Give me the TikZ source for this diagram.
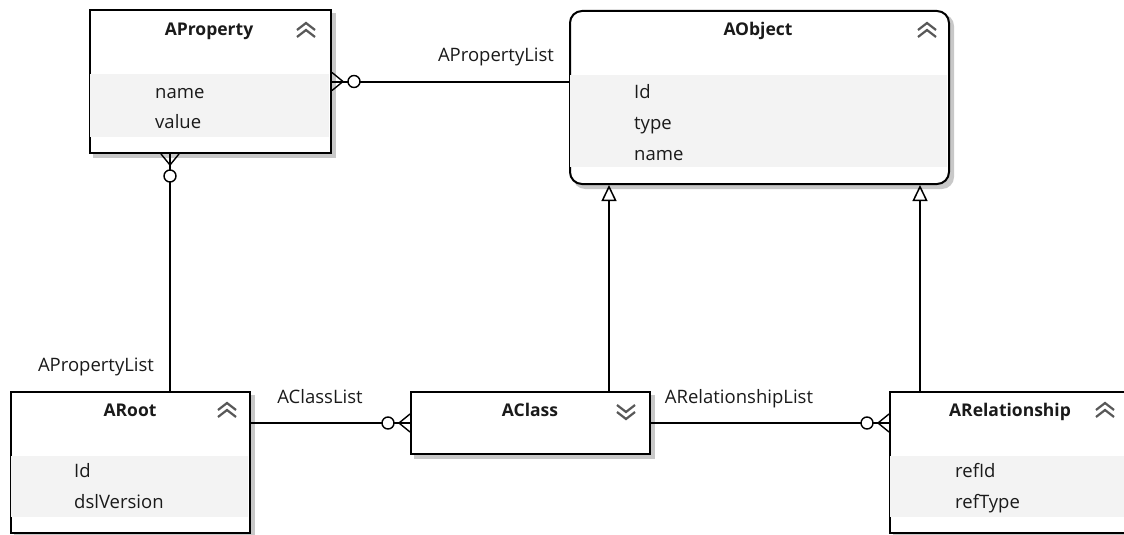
\documentclass[tikz,border=0pt]{standalone}
\usepackage{fontspec}
\setmainfont{Open Sans}
\usetikzlibrary{arrows.meta,calc}
\pgfdeclarelayer{bg}
\pgfsetlayers{bg,main}
\definecolor{shadowgray}{HTML}{C8C8C8}
\definecolor{bandgray}{HTML}{F3F3F3}
\definecolor{chevgray}{HTML}{585858}
\definecolor{txt}{HTML}{1A1A1A}
\tikzset{
  ent/.style={draw=black, line width=2pt, fill=white, inner sep=0pt, anchor=north west},
  shd/.style={fill=shadowgray, draw=none},
  band/.style={fill=bandgray, draw=none},
  ttl/.style={font=\bfseries\fontsize{17.5}{20}\selectfont, text=txt, inner sep=0pt, anchor=base},
  attr/.style={font=\fontsize{18.5}{20}\selectfont, text=txt, anchor=base west, inner sep=0pt},
  lbl/.style={font=\fontsize{18.5}{20}\selectfont, text=txt, inner sep=0pt, anchor=base},
  conn/.style={draw=black, line width=2pt},
  chev/.style={draw=chevgray, line width=2.2pt},
  inh/.style={conn, -{Triangle[open, length=16pt, width=15pt, line width=1.5pt]}}
}
\newcommand\crowfoot[2]{%
  \begin{scope}[shift={(#1)}, rotate=#2]
    \draw[line width=1.4pt] (0,-9) -- (11,0) -- (0,9);
    \draw[line width=1.4pt, fill=white] (22,0) circle (6);
  \end{scope}}
\newcommand\chevup[1]{%
  \begin{scope}[shift={(#1)}]
    \draw[chev] (-9,-1) -- (0,-8) -- (9,-1);
    \draw[chev] (-9,6) -- (0,-1) -- (9,6);
  \end{scope}}
\newcommand\chevdown[1]{%
  \begin{scope}[shift={(#1)}]
    \draw[chev] (-9,-6) -- (0,1) -- (9,-6);
    \draw[chev] (-9,1) -- (0,8) -- (9,1);
  \end{scope}}
\begin{document}
\begin{tikzpicture}[x=1pt, y=-1pt]
\useasboundingbox (0,0) rectangle (1124,535);
\clip (0,0) rectangle (1124,535);

% entities
\node[ent, minimum width=241pt, minimum height=143pt] (prop) at (89,9) {};
\node[ent, rounded corners=12pt, minimum width=379pt, minimum height=173pt] (obj) at (569,10) {};
\node[ent, minimum width=239pt, minimum height=141pt] (root) at (10,391) {};
\node[ent, minimum width=239pt, minimum height=62pt] (cls) at (410,391) {};
\node[ent, minimum width=250pt, minimum height=141pt] (rel) at (889,391) {};

% shadows
\begin{pgfonlayer}{bg}
\foreach \n in {prop,root,cls,rel}
  \fill[shd] ($(\n.north west)+(4,4)$) rectangle ($(\n.south east)+(4,4)$);
\fill[shd, rounded corners=12pt] ($(obj.north west)+(4,4)$) rectangle ($(obj.south east)+(4,4)$);
\end{pgfonlayer}

% attribute bands
\fill[band] (90,74) rectangle (329,137);
\fill[band] (570,75) rectangle (947,167);
\fill[band] (11,456) rectangle (248,517);
\fill[band] (890,456) rectangle (1124,517);

% titles
\node[ttl] (propT) at (209,36) {AProperty};
\node[ttl] (objT) at (758,36) {AObject};
\node[ttl] (rootT) at (130,416) {ARoot};
\node[ttl] (clsT) at (530,416) {AClass};
\node[ttl] (relT) at (1010,416) {ARelationship};

% chevrons
\coordinate (c1) at (306,31);
\coordinate (c2) at (927,31);
\coordinate (c3) at (227,411);
\coordinate (c4) at (626,411);
\coordinate (c5) at (1105,411);
\chevup{c1}\chevup{c2}\chevup{c3}\chevdown{c4}\chevup{c5}

% attributes
\node[attr] (pa1) at (155,98) {name};
\node[attr] (pa2) at (155,128) {value};
\node[attr] (oa1) at (634,98) {Id};
\node[attr] (oa2) at (634,129) {type};
\node[attr] (oa3) at (634,160) {name};
\node[attr] (ra1) at (74,477) {Id};
\node[attr] (ra2) at (74,508) {dslVersion};
\node[attr] (la1) at (955,477) {refId};
\node[attr] (la2) at (955,508) {refType};

% connectors
\coordinate (xpr) at (170,0);
\coordinate (xco) at (609,0);
\coordinate (xro) at (920,0);
\coordinate (pE) at (prop.east);
\coordinate (pS) at (prop.south -| xpr);
\coordinate (cW) at (cls.west);
\coordinate (rW) at (cls.east -| rel.west);

\draw[conn] (pE) -- (pE -| obj.west);
\draw[conn] (pS) -- (root.north -| xpr);
\draw[conn] (root.east |- cW) -- (cW);
\draw[conn] (cls.east) -- (rW);
\draw[inh] (cls.north -| xco) -- (obj.south -| xco);
\draw[inh] (rel.north -| xro) -- (obj.south -| xro);

\crowfoot{pE}{0}
\crowfoot{pS}{-90}
\crowfoot{cW}{180}
\crowfoot{rW}{180}

% labels
\node[lbl] (l1) at (496,62) {APropertyList};
\node[lbl] (l2) at (96,371) {APropertyList};
\node[lbl] (l3) at (320,403) {AClassList};
\node[lbl] (l4) at (739,403) {ARelationshipList};
\end{tikzpicture}
\end{document}
